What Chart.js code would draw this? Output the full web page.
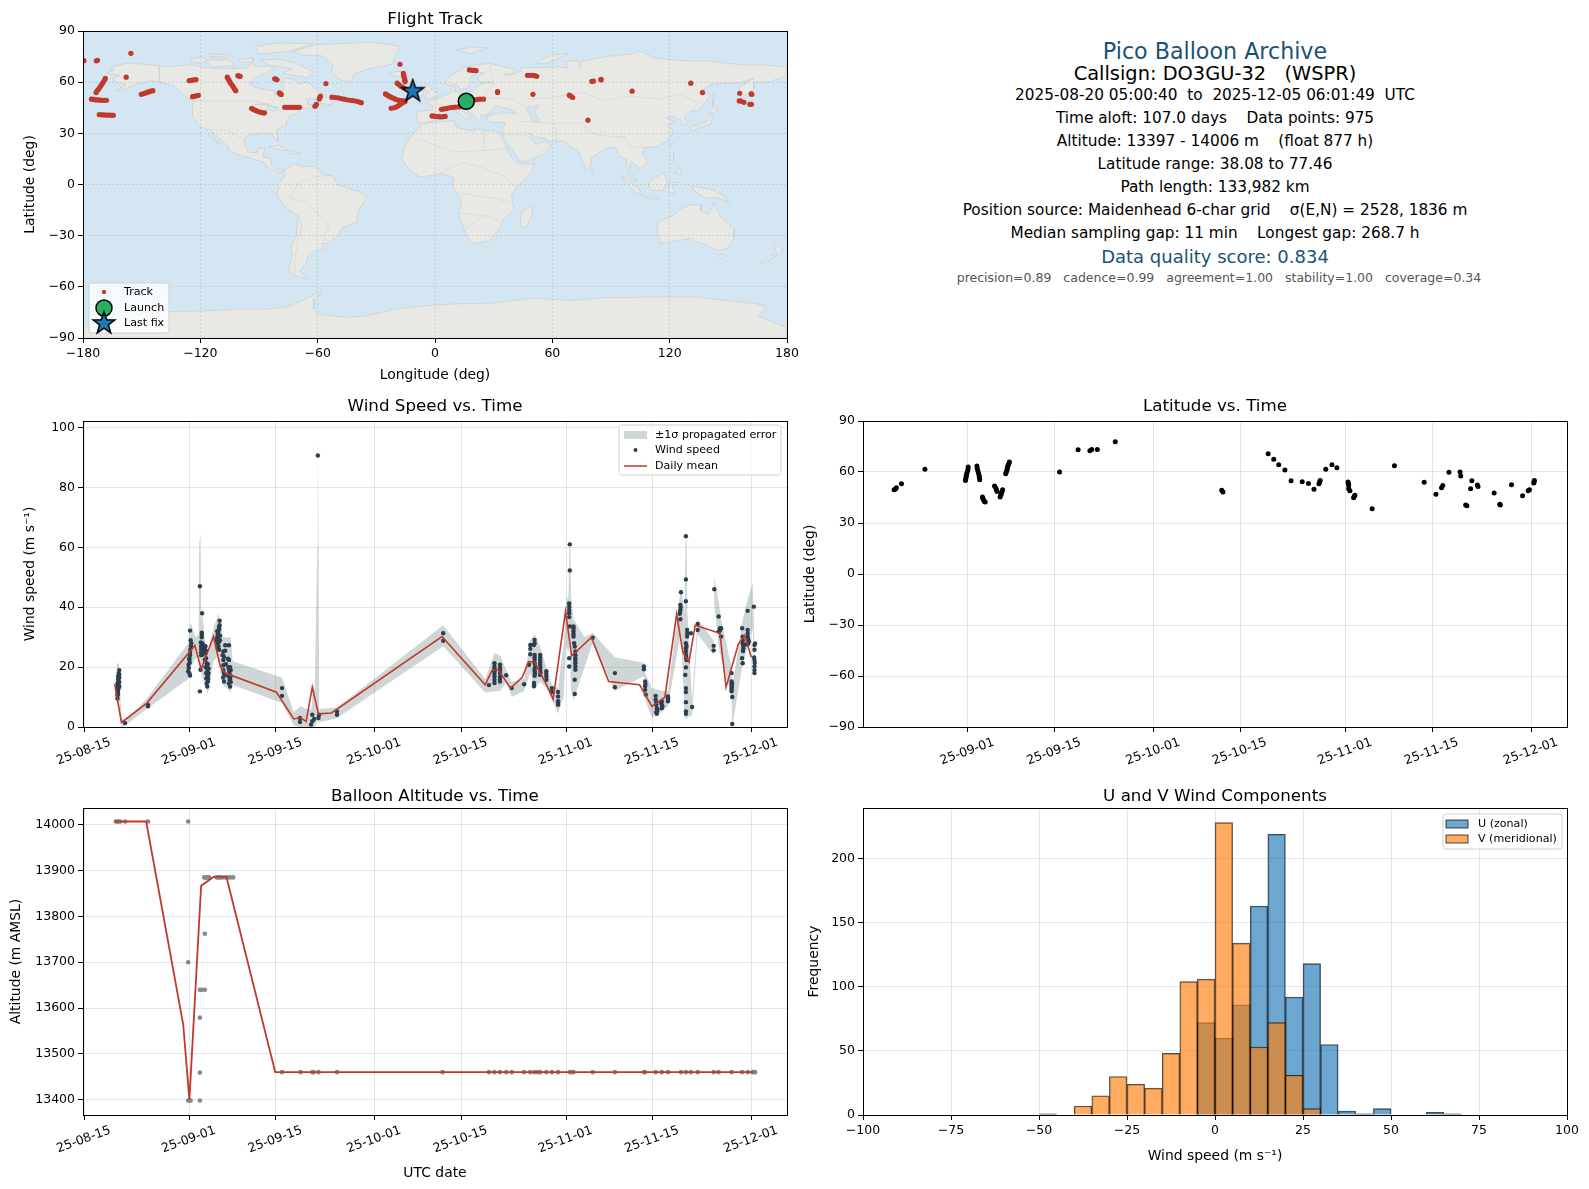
<!DOCTYPE html>
<html>
<head>
<meta charset="utf-8">
<title>Pico Balloon Archive</title>
<script src="https://cdn.jsdelivr.net/npm/chart.js@4"></script>
<style>
  html, body { margin: 0; padding: 0; background: #fff; overflow: hidden; }
  body { width: 1589px; height: 1189px; position: relative; font-family: "DejaVu Sans", sans-serif; }
  canvas { position: absolute; }
  .t { position: absolute; left: 815px; width: 800px; text-align: center; white-space: pre; transform: translateY(-50%); color: #000; font-size: 15.3px; line-height: 1.2; }
</style>
</head>
<body>
<canvas id="mapChart"></canvas>
<canvas id="windChart"></canvas>
<canvas id="latChart"></canvas>
<canvas id="altChart"></canvas>
<canvas id="histChart"></canvas>

<div class="t" style="top:51px;font-size:22.2px;color:#1a5276">Pico Balloon Archive</div>
<div class="t" style="top:74px;font-size:19.4px">Callsign: DO3GU-32   (WSPR)</div>
<div class="t" style="top:95px">2025-08-20 05:00:40  to  2025-12-05 06:01:49  UTC</div>
<div class="t" style="top:118px">Time aloft: 107.0 days    Data points: 975</div>
<div class="t" style="top:141px">Altitude: 13397 - 14006 m    (float 877 h)</div>
<div class="t" style="top:164px">Latitude range: 38.08 to 77.46</div>
<div class="t" style="top:187px">Path length: 133,982 km</div>
<div class="t" style="top:210px">Position source: Maidenhead 6-char grid    σ(E,N) = 2528, 1836 m</div>
<div class="t" style="top:233px">Median sampling gap: 11 min    Longest gap: 268.7 h</div>
<div class="t" style="top:257px;font-size:18px;color:#1a5276">Data quality score: 0.834</div>
<div class="t" style="top:277px;left:819px;font-size:12.5px;color:#555">precision=0.89   cadence=0.99   agreement=1.00   stability=1.00   coverage=0.34</div>

<script>
// ---- axis ticks ----
const mapLonTicks = [-180, -120, -60, 0, 60, 120, 180];
const latTicks = [-90, -60, -30, 0, 30, 60, 90];
const windTicks = [0, 20, 40, 60, 80, 100];
const altTicks = [13400, 13500, 13600, 13700, 13800, 13900, 14000];
const histXTicks = [-100, -75, -50, -25, 0, 25, 50, 75, 100];
const histYTicks = [0, 50, 100, 150, 200];
// dates as days since 2025-08-15
const dateTicks = [0, 17, 31, 47, 61, 78, 92, 108];
const dateLabels = ['25-08-15', '25-09-01', '25-09-15', '25-10-01', '25-10-15', '25-11-01', '25-11-15', '25-12-01'];

// ---- land outlines, [lon, lat] ----
const landNorthAmerica = [[-168,65.5],[-164,67],[-166,68.5],[-160,70.5],[-156.5,71.3],[-148,70.4],[-141,69.7],[-135,69],[-128,70],[-124,70],[-115,68],[-108,68],[-100,68],[-96,68.5],[-94,71],[-90,69],[-85,69.5],[-82,68],[-87,65],[-93,62],[-94.5,59],[-92,57],[-85,55.3],[-82,55],[-82,52.5],[-79.5,51.3],[-79,54.5],[-77,56.5],[-78,59],[-77.5,62.5],[-72,61.5],[-69.5,59],[-65,60],[-61.5,56.5],[-56,52.5],[-60,50],[-66,50],[-65,48.5],[-65,47],[-61,46],[-64,44.5],[-67,45],[-70,43.5],[-70.5,41.7],[-74,40.5],[-76,37],[-76,35],[-81,32],[-80.5,28],[-80.5,25.2],[-82,27],[-83,29.5],[-85,29.7],[-89.5,30],[-90,29],[-94,29.5],[-97,28],[-97.7,24],[-95.5,19],[-91,18.5],[-90.5,21],[-87,21.5],[-88,16],[-84,15.5],[-83.5,11],[-81,8.8],[-78,9.4],[-77.3,8],[-79.5,7.5],[-83,8.3],[-85.5,10],[-87.5,13],[-92,14.5],[-96,16],[-102,18],[-105.5,20],[-105.7,22.5],[-109.5,26],[-112.5,29.5],[-114.7,31.5],[-113,27],[-110,23.3],[-112,25],[-115,28.5],[-117,32.5],[-120.5,34.5],[-124,40],[-124,46],[-123,49],[-127,51],[-130,54.5],[-134,58],[-140,60],[-146,60.8],[-152,59],[-158,56],[-163,54.8],[-158,58.5],[-162,59.5],[-165,62],[-161,64]];
const landGreenland = [[-73,78],[-60,82],[-32,83.5],[-18,81],[-20,76],[-22,70.5],[-33,68],[-41,65],[-43,60],[-49,61.5],[-53,66],[-52,70],[-58,75.5],[-68,76]];
const landBaffin = [[-80,73.5],[-72,71.5],[-62,66],[-65,62.5],[-72,64],[-78,65],[-73,68],[-85,70],[-89,73]];
const landVictoria = [[-117,73],[-105,73],[-102,69.5],[-115,69]];
const landEllesmere = [[-90,76.5],[-75,78],[-62,82.5],[-80,83],[-92,81]];
const landBanks = [[-125,74],[-118,74.5],[-117,72],[-123,71]];
const landMelville = [[-115,76.5],[-105,76],[-106,74.5],[-115,75]];
const landPrinceWales = [[-100,73.5],[-93,74],[-93,72],[-99,71.5]];
const landNewfoundland = [[-59,47.7],[-53,46.7],[-53,49],[-56,51.5]];
const landCuba = [[-85,22],[-80,23],[-74.5,20],[-77.5,20]];
const landHispaniola = [[-74,19.8],[-68.5,18.5],[-71,18],[-74,18.3]];
const landSouthAmerica = [[-77.3,8],[-72,12],[-68,10.7],[-62,10.7],[-57,6],[-52,5],[-50,0],[-44,-2.5],[-37,-5],[-35,-8],[-39,-15],[-40,-22],[-48,-26],[-49,-29],[-54,-34.5],[-58,-34.5],[-57,-38],[-62,-39],[-65,-42],[-66,-46],[-69,-51],[-65,-55],[-71,-54],[-75,-50],[-73,-42],[-73.5,-37],[-71,-30],[-70,-18.5],[-76,-14],[-81,-6],[-80,-2.5],[-80,1],[-77,4]];
const landAfrica = [[-6,35.8],[3,37],[10,37.3],[11,33.5],[15,32.3],[20,31.5],[20,32.8],[25,31.7],[32,31.2],[34,28],[37,21],[39,16],[43,12],[51,12],[48,5],[42,-1.5],[39,-6],[40.5,-15],[35,-20],[33,-26],[28,-33],[20,-34.8],[18,-33],[15,-27],[12,-17],[13.5,-10],[9,-1],[9.5,4],[4,6.3],[-4,5],[-8,4.5],[-13,8.5],[-17,14.7],[-16,20],[-13,27.5],[-9.5,31.5]];
const landEurasia = [[-9,37],[-9.5,43],[-1.5,43.5],[-1,46],[-4.5,48.3],[1.5,50.5],[4,52],[8,54],[8.5,57],[10.5,57.5],[10,54.5],[14,54],[19,54.5],[21,57],[24,59.3],[29.5,60],[23,60],[21.5,62.5],[25,65.5],[22,65.8],[17.5,62],[18.5,60],[16.5,56.5],[13,55.5],[11,59],[7,58],[5,60],[8,63.5],[14,68],[20,70],[28,71],[41,67.5],[40,65],[35,64.3],[38,64],[44,66.5],[44,68.5],[54,68.5],[60,69],[68,68.5],[67,72],[73,73],[74,68],[75,72],[87,75],[100,76.5],[105,78],[113,74],[128,72.5],[140,72.5],[150,71],[160,70],[170,70],[180,69],[180,65],[177,62.5],[170,60],[163,60],[163,56],[157,51],[155.5,57],[163,62],[155,59.5],[142,59],[135,54.5],[141,52.5],[135,43.5],[130,42.5],[127.5,39.7],[129.3,36],[126.5,34.5],[126,37.5],[122,40],[118,39],[122.5,37],[119,35],[122,31],[119,25.5],[113,22],[108,21.7],[106,19],[109,13],[105,9],[100.5,13.5],[99,9],[103,2],[101,3],[98,8.5],[98,15],[94.5,16],[92,22],[87,21],[80,15.5],[79.5,10],[77.5,8],[73,20],[69,22.5],[66.5,25.3],[57,25.5],[56.5,27],[51,28],[48,30],[50,26],[52,24],[56.3,25],[59.5,22.5],[55,17],[45,13],[43,14],[39,21],[35,28],[34.5,31.5],[36,36.5],[30,36.2],[27,37],[26.5,40],[29,41],[35,42],[41.5,41.5],[38,44.5],[34,45],[31,46.5],[28,42],[26,40.7],[23,40.3],[24,38],[22.5,36.7],[19.5,41],[14,45.3],[12.3,44.5],[18,40],[16,38],[12,42],[9,44.3],[3,43],[0,39],[-2,36.8],[-5.5,36]];
const landBritain = [[-5.5,50],[1.5,51.2],[1.5,52.9],[-2,56],[-2,57.7],[-5,58.6],[-6,56],[-3,54],[-5,52]];
const landIreland = [[-10,52],[-6,52.2],[-6,55],[-9,54.5]];
const landIceland = [[-24,65.5],[-18,66.3],[-14,65],[-18,63.5],[-22.5,64]];
const landSvalbard = [[11,79],[20,80.5],[27,80],[18,76.7]];
const landNovayaZemlya = [[52,71],[57,71],[68,76.7],[60,76],[54,73]];
const landMadagascar = [[49.5,-12],[50,-16],[47,-25],[44,-25],[43.5,-21],[44.5,-16]];
const landHonshu = [[130.5,34],[136,35.5],[140,38],[141.5,41],[142,39],[140.5,35],[136,33.7],[131,31]];
const landHokkaido = [[140,42],[142,45.5],[145,43.5],[143,42]];
const landSakhalin = [[142,46],[143,50],[142.5,54],[142,50]];
const landTaiwan = [[120,23],[121.5,25],[121,22]];
const landLuzon = [[120,16],[122,18.5],[122,14],[120.5,14]];
const landMindanao = [[122,7],[125.5,9.5],[126,6.5]];
const landSumatra = [[95,5.5],[104,-2],[106,-6],[102,-4.5]];
const landBorneo = [[109,1.5],[117,7],[119,1],[116,-4],[110,-3]];
const landJava = [[105.5,-6.5],[114.5,-7.5],[114,-8.7],[106,-7.5]];
const landSulawesi = [[119.5,-5],[120,1],[125,1.5],[121,-1],[123,-5]];
const landNewGuinea = [[131,-1],[141,-2.7],[147,-6],[150.5,-10.5],[144,-7.8],[138,-8],[133,-4]];
const landSriLanka = [[80,9.5],[82,7],[80.5,6]];
const landAustralia = [[114,-22],[122,-18],[126,-14],[130,-12],[136,-12],[136,-15.5],[140,-17.5],[142.5,-11],[146,-19],[153,-26],[153,-31],[150,-37.5],[144,-38.5],[138,-35],[135,-34.5],[131,-31.5],[124,-33],[115,-34.5],[113.5,-26]];
const landTasmania = [[145,-41],[148,-41],[147,-43.5],[146,-43.5]];
const landNZNorth = [[173,-35],[178,-38],[175,-41.5],[174,-38]];
const landNZSouth = [[172,-41],[174,-42],[168,-46.5],[166.5,-46]];
const landAntarctica = [[-180,-84.5],[-158,-79],[-150,-76],[-135,-74.5],[-115,-74],[-100,-73],[-85,-73],[-75,-71.5],[-68,-68],[-60,-63.5],[-58,-64],[-62,-67],[-62,-73],[-60,-76],[-45,-78],[-35,-77],[-22,-73.5],[-10,-71.5],[10,-70],[30,-69.5],[50,-66.5],[70,-68],[85,-66.5],[110,-66],[135,-66],[145,-67.5],[165,-70],[170,-72],[165,-77],[180,-84],[180,-90],[-180,-90]];
const landShapes = [landNorthAmerica, landGreenland, landBaffin, landVictoria, landEllesmere, landBanks, landMelville, landPrinceWales, landNewfoundland, landCuba, landHispaniola, landSouthAmerica, landAfrica, landEurasia, landBritain, landIreland, landIceland, landSvalbard, landNovayaZemlya, landMadagascar, landHonshu, landHokkaido, landSakhalin, landTaiwan, landLuzon, landMindanao, landSumatra, landBorneo, landJava, landSulawesi, landNewGuinea, landSriLanka, landAustralia, landTasmania, landNZNorth, landNZSouth, landAntarctica];
const waterCaspian = [[47,45],[53,46.5],[51,42],[54,37],[50,37],[48,42]];
const waterSuperior = [[-92,46.8],[-85,47.5],[-85,46.6]];
const waterHuron = [[-87.5,42],[-85,46],[-80,45.5],[-82,43],[-86,44]];
const waterShapes = [waterCaspian, waterSuperior, waterHuron];
const borderLines = [
  [[-123,49],[-95,49],[-89,48],[-82,45],[-79,43],[-75,45],[-70,46],[-67,45]],
  [[-141,69.7],[-141,60]],
  [[-117,32.5],[-106,31.5],[-97,26]],
  [[-52,5],[-60,5],[-70,1],[-74,-8],[-65,-11],[-58,-20],[-54,-25],[-57,-30],[-53.5,-34]],
  [[-70,-18],[-68,-24],[-70,-33],[-72,-45],[-71,-52]],
  [[-9,27],[9,19],[25,20],[25,31.7]],
  [[25,20],[37,21]],
  [[3,7],[14,13],[24,10],[35,5],[42,-1.5]],
  [[12,-5],[30,-8],[40,-11]],
  [[12,-17],[25,-18],[33,-22]],
  [[15,-27],[20,-22],[25,-18]],
  [[28,70],[30,60],[28,56],[24,51],[40,50],[47,45]],
  [[47,50],[60,51],[75,54],[87,49]],
  [[87,49],[98,52],[115,50],[125,53],[135,48],[131,43]],
  [[75,36],[80,30],[90,28],[97,28],[100,22],[108,21.7]],
  [[44,37],[61,36],[62,25]],
  [[61,36],[75,36]],
  [[35,29],[47,29],[55,20],[52,17]]
];

// ---- flight track, [lon, lat] ----
const trackPoints = [[-179.5,72.6],[-173.2,72.5],[-172.6,72.8],[-155.5,76.9],[-157.9,62.9],
  [-168.6,62.3],[-169,61.2],[-169.6,60.1],[-170.2,59],[-170.8,58],[-171.4,57],[-172,56],[-172.7,55],[-173.3,53.9],
  [-175.7,50],[-174.8,49.9],[-174,49.7],[-173,49.6],[-172,49.6],[-171,49.5],[-170,49.4],[-169,49.4],[-168,49.4],
  [-171.7,41],[-170.6,40.9],[-169.5,40.8],[-168.4,40.7],[-167.3,40.7],[-166.2,40.7],[-165.2,40.6],[-164.5,40.6],
  [-150.2,52.9],[-149.2,53.2],[-148.2,53.6],[-147.2,54],[-146.2,54.4],[-145.2,54.8],[-144.3,55],
  [-125.7,60.9],[-124.8,61],[-123.8,61.2],[-122.8,61.4],[-122.2,61.5],
  [-124,51.5],[-123,51.7],[-122,52],[-121,52.3],
  [-106.2,62.9],[-105.8,62],[-105.3,61],[-104.8,60],[-104.3,59],[-103.6,58],[-103,57],[-102.5,56],[-101.9,55],
  [-100.8,63.8],[-100.3,63.6],[-99.6,63.4],
  [-93.8,44.7],[-93,44.1],[-92,43.6],[-91,43.1],[-90,42.6],[-89,42.3],[-88,42],[-87.2,42],
  [-82,62],[-81.4,61.8],[-80.8,61.4],[-79.6,53.8],[-79.2,53.2],[-78.6,52.8],
  [-76.9,45.3],[-76,45.3],[-75,45.3],[-74,45.3],[-73,45.3],[-72,45.3],[-71,45.3],[-70,45.3],[-69.3,45.3],
  [-61.4,45.9],[-61,46.3],[-60.6,47],[-59.2,50.2],[-58.9,51],[-58.6,51.8],[-55.8,59.2],
  [-52.7,51.2],[-51,51],[-49.5,50.8],[-48,50.4],[-46.5,50],[-45,49.7],[-43.5,49.4],[-42,49.2],[-40.5,48.9],[-39,48.5],[-37.7,48],
  [-25.3,53.1],[-24.5,52.5],[-23.5,51.8],[-22.5,51.2],[-21.5,50.7],[-20.5,50.2],[-19.5,49.7],[-18.5,49.4],[-17.3,49.2],[-15.8,49],
  [-22.4,44.7],[-21,45],[-20,45.4],[-19,46],[-18,46.8],[-17,47.6],[-16,48.3],[-15.3,48.6],
  [-19.3,59.4],[-18.5,58.6],[-17.5,57.6],[-16.5,57],[-15.5,56.3],[-14.6,55.8],
  [-16.2,65.2],[-16,64],[-15.8,63],[-15.6,62],[-15.4,61],[-15.3,60.3],[-17.9,70.5],
  [-1.5,40.2],[-0.5,40.1],[0.5,39.9],[1.5,39.8],[2.5,39.7],[3.5,39.7],[4.5,39.8],[5.2,39.9],
  [3.3,44.1],[4.5,44.3],[6,44.6],[7.5,45],[9,45.2],[10.5,45.4],[12,45.5],[12.8,45.7],
  [20,49.6],[21.5,49.8],[23,50],[24.8,50],[17.6,67.2],[18.8,67],[20,66.9],[21,66.8],
  [32,54],[32,54.5],[47.3,64],[48.5,64],[49.8,64],[51,63.8],[52,63.4],[50.1,52.9],
  [68.7,52.4],[69.5,51.8],[70.4,51],[80.2,60.5],[81,60.6],[84.9,61.3],[84.9,61.7],[78.2,37.7],
  [100.8,54.7],[130.8,59.4],[136.8,53.9],[155.8,53.5],[162,52.9],[161.7,53.1],
  [155.6,49],[156.5,48.9],[158,48.2],[161,47],[161.8,47]];
const launchPoint = [16, 48.8];
const lastFixPoint = [-11.4, 55];

// ---- wind speed, [day, m/s] ----
const windPoints = [[5.35,9.5],[5.35,10.5],[5.35,11.5],[5.35,12.5],[5.35,13.5],[5.35,14.5],[5.45,11],[5.45,12],[5.45,13],[5.45,14],[5.45,15],[5.45,16],[5.45,17],[5.55,13],[5.55,14],[5.55,15],[5.55,16],[5.55,17],[5.55,18],[5.65,13.5],[5.65,15],[5.65,16.5],[5.65,17.5],[5.65,19],
  [6.58,1.3],[10.3,7.4],[10.3,6.9],
  [17.1,32.2],[17.2,29],[17.3,28],[17.1,24.7],[17,23],[16.9,19.7],[16.8,18.6],[17.1,17.2],[17.25,27],[17.15,25.8],[17.1,24],[17,22.4],[16.85,20.8],[17.05,21.5],[17,18],
  [18.7,47],[19.05,38],[18.7,11.9],[19,31.5],[19,30.8],[19,30],[18.9,27],[18.9,26],[18.9,25],[18.9,24],[18.8,19.1],[19.1,28],[19.1,25.5],[19.15,24.2],[18.85,28.2],
  [19.4,26.9],[19.5,26],[19.6,24.6],[19.7,23],[19.8,21.3],[19.9,19],[19.9,16.9],[20,15.2],[19.9,13.5],[19.7,18],[19.6,20],[19.8,14.5],[19.6,27],[19.7,25.5],[19.5,22.5],[20,21],[20.1,19.5],[20.1,18],[20,17],[20.05,16],[19.75,16.2],[19.85,20.2],
  [21.9,35.5],[21.8,33.5],[21.7,31.9],[21.7,30.2],[21.8,28.5],[21.7,27],[21.8,25.8],[21.5,32],[21.5,30],[21.4,29],[21.9,34],[21.85,32.8],[21.6,31],[21.95,30.5],[21.95,29],[21.6,28],[21.55,26.5],
  [22.8,27.3],[23.4,27.3],[22.5,25.2],[22.8,25.5],[22.5,22.4],[23.4,22.4],[22.5,19],[23.6,20],[23.5,18],[22.7,17.4],[23.5,15.7],[22.6,15.2],[23.6,13.5],[23.7,19],[23.3,17],[23.6,16],[22.9,21],[22.4,24],[22.5,20.6],[22.6,23.5],[22.6,18],[23.3,20],[23.4,19],[23.7,17],[23.7,15],[23.4,14.5],[23.25,22.8],[22.45,16.5],
  [32,13],[32,10.4],[34.9,3],[34.9,1.7],[36.9,4.1],[36.9,1.9],[36.7,0.8],[37.2,2.7],[37.8,90.7],[37.9,3],[38,4.1],[40.9,5.2],[40.9,4.1],
  [58.1,31.3],[58.1,28.8],[65.5,14],[66.4,21.3],[66.4,20.2],[66.4,18.6],[66.4,16.9],[66.4,14.7],[66.4,19.4],[66.4,17.8],[66.4,15.8],[67.3,20.8],[67.3,19.7],[67.3,18],[67.3,16.9],[67.3,15.2],[67.3,18.9],[67.3,16],[68.3,17.3],[69.2,13],[71.2,14.3],
  [72.2,27.4],[72.2,26.1],[72.2,24.3],[72,20.8],[72.9,29.1],[72.9,28],[72.8,27.4],[72.9,24.1],[72.9,22.4],[73,20.2],[72.9,18.6],[72.9,17.1],[72.8,14.7],[72.8,13.6],[72.9,23.3],[72.9,21.3],[72.9,19.4],[72.95,17.9],[72.8,14],
  [73.8,24.1],[73.8,22.4],[73.8,20.8],[73.8,19],[73.8,17.4],[73.8,23.2],[73.8,21.6],[73.85,20],[73.85,18.2],[74.8,18.6],[74.8,16.9],[74.8,15.8],[74.8,17.8],[75.7,13],[75.7,11.7],[76.7,11.7],[76.7,10.2],[76.7,8.6],[76.7,7.4],[76.7,8],
  [78.6,61],[78.6,52.3],[78.5,41.3],[78.5,40.2],[78.5,39.1],[78.5,38],[78.5,36.7],[78.6,33.6],[79.2,33.6],[79.2,31.9],[79.2,30.2],[79.4,26.9],[79.5,25.2],[79.5,23],[79.5,21.3],[79.5,19.1],[79.4,15.8],[79.4,11],[78.5,23],[78.5,20.2],[79.2,32.8],[79.2,31],[79.5,24],[79.5,22.2],[79.5,20.2],[79.3,28],
  [82.3,29.8],[85.9,18],[85.9,13.3],[90.6,20.2],[90.6,19.3],[90.8,15.2],[90.8,13.6],[90.8,12.4],[90.9,10.8],[90.85,14.4],
  [92.5,10.4],[92.5,9.1],[92.6,7.4],[92.7,6.3],[92.7,5.2],[92.7,4.4],[92.6,8.2],[92.8,5.8],[92.6,4.9],[93.5,8.6],[93.5,7.4],[93.5,6.3],[93.4,8],[93.6,6.9],[94.5,10.2],[94.5,9.1],[94.5,8.6],[94.5,9.6],
  [96.6,45],[96.5,40.8],[96.5,39.1],[96.4,37.8],[96.5,36],[96.55,40],[96.45,38.4],[97.4,63.7],[97.4,49.3],[97.4,42],[97.6,32.4],[97.6,30.2],[97.4,28],[97.4,26.3],[97.4,24.1],[97.5,22.4],[97.4,19.9],[97.3,17.4],[97.4,13],[97.4,11.7],[97.4,8.3],[97.4,5.2],[97.4,4.4],[98.4,6.7],[98.2,31.3],[97.6,31.2],[97.5,27],[97.4,25.2],[97.45,23.2],
  [99.3,34.4],[99.3,32.4],[101.9,27.1],[101.9,25.6],[102,46],[102.7,36.9],[102.9,33],[102.7,31.9],[103.1,30.2],[102.9,32.2],[103.1,33],
  [104.8,18],[104.8,15.2],[104.8,14.1],[104.8,13],[104.8,11.9],[104.9,10],[104.9,1],[104.85,14.6],[104.85,13.5],[104.8,12.4],
  [106.5,33],[106.6,30.2],[106.6,28],[106.7,26.3],[106.5,23],[106.6,21.3],[106.6,29],[106.7,27.2],[106.65,25.4],[107.4,38.8],[107.4,32.4],[107.4,30.2],[107.6,28.6],[107,27.5],[107.4,31.2],[107.5,29.4],[107.5,27.8],
  [108.4,40.2],[108.5,27.4],[108.5,25.8],[108.5,22.4],[108.5,20.2],[108.5,18],[108.45,23.2],[108.55,21.4],[108.5,19],[108.6,27.9]];
const windMeanDays = [4.9,6,10.1,17.9,18.9,20.9,22,22.8,31.1,33.9,35,35.9,36.9,37.9,40,57.9,64.9,66,67,69,70.9,71.9,72.9,74.9,75.9,77.9,78.9,82.1,84.9,89.9,91.9,94,95.9,96.9,97.9,98.9,102.9,103.9,105.9,106.9,108];
const windMeanSpeed = [14.3,1.5,8,27.2,19.3,30.2,20.2,18,11.6,2.7,3.1,1.9,13.3,4.4,4.7,30.2,14.1,18.9,19.2,13,16.6,21.8,21.6,13.8,9.3,38.6,23.8,29.9,15.2,14.1,6.9,10,37.7,25,21.7,34,31.3,13.3,27.8,30.6,23.3];
const bandDays = [5.2,5.6,6,6.6,10.1,16.8,17.2,18,18.5,18.58,18.7,18.82,18.9,19.05,19.5,20,20.9,21.7,22,22.5,23.7,24,32,33.9,35,36,36.8,37,37.3,37.7,37.8,37.9,38.02,40.9,58.1,64.9,66.4,67.3,68.3,69.2,71.2,72.2,72.9,73.8,74.8,75.7,76.7,77.6,78,78.4,78.5,78.6,78.7,78.8,79.2,81,82.3,85.9,90.6,90.8,91.9,93.5,94.5,96.6,97.2,97.3,97.4,97.5,97.6,98.4,99.3,101.9,102,102.7,103.2,104.8,104.9,106.5,107.4,108.2,108.5];
const bandUpper = [21.5,21,3,2,9.5,28,35,30,31,62,65.5,62,34,40,29,25,33,38,34,30,30,22,16.5,5,7,6,6,15,12,60,97.7,70,6,6.5,34,16,24.7,24,19,15,16,29,31,27,20,14,13,28,42,44,60,64,60,44,36,30,31.5,23.3,21.5,18,13,12,12,47,38,62,67,62,40,9,36,29,50,42,35,20,13,35,43,48,29];
const bandLower = [7,9,0,0.5,6,16,20,23,23,23,20,18,18,17,14,11,22,24,18,14,11.5,14,8,0.5,0,0,0,0,0,2,2,2,1.5,3,27,11.5,11.9,12,15,10,12,18,13,15,13,9,4.5,10,27,25,27,27,20,12,9,20,28,12,17,9,3,5,7,32,3,3,2.5,3,3,4,31,24,41,27,22,10,0,20,27,33,16];

// ---- latitude vs time, [day, deg] ----
const latPoints = [[5.07,49.6],[5.3,50],[5.44,50.8],[6.26,53.1],[10.05,61.6],
  [16.6,55],[16.65,56],[16.7,57],[16.75,58],[16.8,59],[16.9,60.2],[17,61.4],[17.04,62.9],[18.45,63.5],[18.5,62],[18.6,60.7],[18.7,59.4],[18.8,58],[18.85,56.8],[18.9,55.5],
  [19.35,45.3],[19.4,44.5],[19.5,43.7],[19.65,42.7],[19.8,42.4],[21.3,51.8],[21.5,50.6],[21.6,49.6],[21.7,48.6],[22.2,45.3],[22.3,46.3],[22.4,47.3],[22.5,48.5],[22.6,49.6],
  [23.1,59],[23.2,60],[23.3,61],[23.35,62],[23.4,62.9],[23.5,63.9],[23.6,64.9],[23.7,65.9],
  [31.8,60],[34.8,73.1],[36.7,72.5],[37,73.3],[37.9,73.3],[40.8,77.8],[58,49.2],[58.2,48.2],
  [65.5,70.8],[66.4,67.5],[67.2,64.3],[68.2,61.2],[69.2,54.9],[71,54.3],[72,53.3],[72.9,49.8],[73.7,53.1],[73.8,54],[73.9,55],[74.8,61.6],[75.8,64.3],[76.6,62.5],
  [78.4,54.1],[78.45,53.1],[78.5,52.2],[78.5,50.2],[78.7,49],[79.3,44.9],[79.4,45.6],[79.5,46.3],[82.3,38.4],[85.9,63.7],[90.7,53.9],[92.6,46.9],[93.5,50.8],[93.7,52],[94.7,59.8],[96.5,60],[96.6,57.6],[97.4,40.6],[97.6,40.2],[98.4,54.9],[98.2,50.2],[99.3,52.4],[99.4,51.4],[102,47.7],[102.9,41],[103,40.6],[104.8,52.5],[106.6,46],[107.5,49],[107.7,49.6],[108.4,53.5],[108.45,54.2],[108.5,55]];

// ---- altitude vs time, [day, m] ----
const altPoints = [[5.1,14007],[5.3,14007],[5.5,14007],[5.8,14007],[6.6,14007],[10.3,14007],[16.8,14007],[16.8,13700],[17,13398],[16.8,13398],[17.2,13398],[18.7,13398],[18.7,13459],[18.7,13579],[18.7,13640],[19,13640],[19.5,13640],[19.5,13762],
  [19.4,13885],[19.6,13885],[19.8,13885],[20,13885],[20.2,13885],[21.4,13885],[21.7,13885],[22,13885],[22.3,13885],[22.8,13885],[23.2,13885],[23.6,13885],[24.1,13885],
  [32,13460],[35,13460],[36.9,13460],[37.1,13460],[37.9,13460],[40.9,13460],[58,13460],[65.5,13460],[66.4,13460],[67.3,13460],[68.3,13460],[69.2,13460],[71.2,13460],[72.2,13460],[72.9,13460],[73.4,13460],[73.8,13460],[74.8,13460],[75.7,13460],[76.7,13460],[78.6,13460],[78.9,13460],[79.2,13460],[82.3,13460],[85.9,13460],[90.6,13460],[90.8,13460],[92.5,13460],[93.5,13460],[94.5,13460],[96.6,13460],[97.4,13460],[98.2,13460],[99.3,13460],[101.9,13460],[102.7,13460],[104.8,13460],[106.5,13460],[107.4,13460],[108.2,13460],[108.4,13460],[108.6,13460]];
const altMeanDays = [4.9,10,16,17,18.9,20.9,23,30.9,40,58,75,90,108.4];
const altMeanValues = [14007,14007,13564,13400,13867,13886,13886,13460,13460,13460,13460,13460,13460];

// ---- histogram, 5 m/s bins ----
const binCenters = [-97.5,-92.5,-87.5,-82.5,-77.5,-72.5,-67.5,-62.5,-57.5,-52.5,-47.5,-42.5,-37.5,-32.5,-27.5,-22.5,-17.5,-12.5,-7.5,-2.5,2.5,7.5,12.5,17.5,22.5,27.5,32.5,37.5,42.5,47.5,52.5,57.5,62.5,67.5,72.5,77.5,82.5,87.5,92.5,97.5];
const uCounts = [0,0,0,0,0,0,0,0,0,0,1,0,0,0,0,0,0,0,0,72,60,86,163,219,92,118,55,3,1,5,0,0,2,1,0,0,0,0,0,0];
const vCounts = [0,0,0,0,0,0,0,0,0,0,0,0,7,15,30,24,21,48,104,106,228,134,53,72,31,5,0,0,0,0,0,0,0,0,0,0,0,0,0,0];

// ---- shared styling ----
const FONT = '"DejaVu Sans", sans-serif';
const RED = '#c0392b', NAVY = '#2c3e50', GREY = '#7f8c8d';
const GRID = 'rgba(127,140,141,0.22)';
const BAND = 'rgba(105,128,128,0.32)';
const tickFont = { family: FONT, size: 12.5 };
const labelFont = { family: FONT, size: 13.9 };
const asXY = pts => pts.map(p => ({ x: p[0], y: p[1] }));
const zipXY = (xs, ys) => xs.map((x, i) => ({ x: x, y: ys[i] }));
const minusSign = v => String(v).replace('-', '\u2212');

// 5-point star used as the point style of the last fix
function starImage() {
  const c = document.createElement('canvas');
  c.width = 26; c.height = 26;
  const g = c.getContext('2d');
  g.beginPath();
  for (let i = 0; i < 10; i++) {
    const r = i % 2 ? 4.6 : 11.5, a = -Math.PI / 2 + i * Math.PI / 5;
    g.lineTo(13 + r * Math.cos(a), 13.5 + r * Math.sin(a));
  }
  g.closePath();
  g.fillStyle = '#1f77b4'; g.fill();
  g.lineWidth = 1.5; g.strokeStyle = '#000'; g.stroke();
  return c;
}
const STAR = starImage();

function drawLegendItem(g, it, x0, x1, y, tx) {
  g.save();
  const cx = (x0 + x1) / 2;
  if (it.kind === 'patch') {
    g.fillStyle = it.fill; g.fillRect(x0, y - 4, x1 - x0, 8);
    if (it.stroke) { g.strokeStyle = it.stroke; g.lineWidth = 1; g.strokeRect(x0, y - 4, x1 - x0, 8); }
  } else if (it.kind === 'dot') {
    g.fillStyle = it.fill; g.beginPath(); g.arc(cx, y, it.r, 0, 7); g.fill();
  } else if (it.kind === 'line') {
    g.strokeStyle = it.stroke; g.lineWidth = 1.5; g.beginPath(); g.moveTo(x0, y); g.lineTo(x1, y); g.stroke();
  } else if (it.kind === 'circle') {
    g.fillStyle = it.fill; g.strokeStyle = '#000'; g.lineWidth = 1.5; g.beginPath(); g.arc(cx, y, it.r, 0, 7); g.fill(); g.stroke();
  } else if (it.kind === 'star') {
    g.drawImage(STAR, cx - 13, y - 13);
  }
  g.restore();
  g.fillStyle = '#000'; g.textBaseline = 'middle'; g.textAlign = 'left';
  g.fillText(it.label, tx, y);
}

// axes frame, panel colour and legend box inside the axes
function framePlugin(bg, legend) {
  return {
    id: 'frame',
    beforeDraw(chart) {
      if (!bg) return;
      const a = chart.chartArea;
      chart.ctx.fillStyle = bg;
      chart.ctx.fillRect(a.left, a.top, a.width, a.height);
    },
    afterDraw(chart) {
      const g = chart.ctx, a = chart.chartArea;
      g.save();
      g.strokeStyle = '#000'; g.lineWidth = 1;
      g.strokeRect(Math.round(a.left) + 0.5, Math.round(a.top) + 0.5, Math.round(a.width), Math.round(a.height));
      if (legend) {
        const ox = chart.canvas.offsetLeft, oy = chart.canvas.offsetTop;
        g.beginPath();
        g.roundRect(legend.x - ox, legend.y - oy, legend.w, legend.h, 3);
        g.fillStyle = 'rgba(255,255,255,0.8)'; g.fill();
        g.strokeStyle = '#d0d0d0'; g.stroke();
        g.font = legend.size + 'px ' + FONT;
        legend.items.forEach(it => drawLegendItem(g, it, legend.x0 - ox, legend.x1 - ox, it.y - oy, legend.tx - ox));
      }
      g.restore();
    }
  };
}

function xAxis(min, max, ticks, labels, height, title, rotated, style) {
  return {
    type: 'linear', min: min, max: max, offset: false,
    afterBuildTicks: s => { s.ticks = ticks.map(v => ({ value: v })); },
    afterFit: s => { s.height = height; },
    ticks: {
      font: tickFont, color: '#000', padding: 3, autoSkip: false,
      minRotation: rotated ? 20 : 0, maxRotation: rotated ? 20 : 0, labelOffset: rotated ? 26 : 0,
      callback: (v, i) => labels ? labels[i] : minusSign(v)
    },
    title: { display: !!title, text: title, color: '#000', font: labelFont, padding: 0 },
    grid: Object.assign({ color: GRID, offset: false, tickColor: '#000', tickLength: 5 }, style ? style.grid : {}),
    border: Object.assign({ color: '#000' }, style ? style.border : {})
  };
}
function yAxis(min, max, ticks, width, title, style) {
  return {
    type: 'linear', min: min, max: max,
    afterBuildTicks: s => { s.ticks = ticks.map(v => ({ value: v })); },
    afterFit: s => { s.width = width; },
    ticks: { font: tickFont, color: '#000', padding: 3, autoSkip: false, callback: v => minusSign(v) },
    title: { display: true, text: title, color: '#000', font: labelFont, padding: 0 },
    grid: Object.assign({ color: GRID, tickColor: '#000', tickLength: 5 }, style ? style.grid : {}),
    border: Object.assign({ color: '#000' }, style ? style.border : {})
  };
}

// canvases are placed so the plot rectangle lands on the reference axes
const TOP_GAP = 30, RIGHT_GAP = 20;
function panel(id, axLeft, axTop, axW, axH, yW, xH, title, titlePad, type, datasets, xA, yA, plugin) {
  const el = document.getElementById(id);
  el.style.left = (axLeft - yW) + 'px';
  el.style.top = (axTop - TOP_GAP) + 'px';
  el.width = yW + axW + RIGHT_GAP;
  el.height = TOP_GAP + axH + xH;
  return new Chart(el, {
    type: type,
    data: { datasets: datasets },
    plugins: [plugin],
    options: {
      responsive: false, animation: false, devicePixelRatio: 1, events: [],
      layout: { padding: { left: 0, top: 0, right: RIGHT_GAP, bottom: 0 } },
      plugins: {
        legend: { display: false }, tooltip: { enabled: false },
        title: { display: true, text: title, fullSize: false, color: '#000',
                 font: { family: FONT, size: 16.7, weight: 'normal', lineHeight: '20px' },
                 padding: { top: 10 - titlePad, bottom: titlePad } }
      },
      scales: { x: xA, y: yA }
    }
  });
}

// ---- flight track map ----
const mapDatasets = [];
landShapes.forEach(shape => mapDatasets.push({
  data: asXY(shape.concat([shape[0]])), order: 20, pointRadius: 0, tension: 0,
  borderColor: '#c8ced1', borderWidth: 0.7, backgroundColor: '#e8e8e4', fill: 'shape'
}));
waterShapes.forEach(shape => mapDatasets.push({
  data: asXY(shape.concat([shape[0]])), order: 15, pointRadius: 0, tension: 0,
  borderColor: '#c8ced1', borderWidth: 0.6, backgroundColor: '#d4e6f1', fill: 'shape'
}));
borderLines.forEach(line => mapDatasets.push({
  data: asXY(line), order: 10, pointRadius: 0, tension: 0,
  borderColor: 'rgba(190,192,190,0.45)', borderWidth: 0.7, fill: false
}));
mapDatasets.push({ data: asXY(trackPoints), order: 3, showLine: false, pointRadius: 2.6, pointBorderWidth: 0, pointBackgroundColor: RED });
mapDatasets.push({ data: asXY([launchPoint]), order: 2, showLine: false, pointRadius: 8, pointBorderWidth: 1.5, pointBorderColor: '#000', pointBackgroundColor: '#27ae60' });
mapDatasets.push({ data: asXY([lastFixPoint]), order: 1, showLine: false, pointStyle: STAR });

// map grid sits over the land; the border must share its layer
const mapGridStyle = {
  grid: { color: 'rgba(127,140,141,0.25)', z: 1 },
  border: { dash: [2, 2], z: 1 }
};
panel('mapChart', 83, 31, 704, 307, 61, 46, 'Flight Track', 1, 'line', mapDatasets,
  xAxis(-180, 180, mapLonTicks, null, 46, 'Longitude (deg)', false, mapGridStyle),
  yAxis(-90, 90, latTicks, 61, 'Latitude (deg)', mapGridStyle),
  framePlugin('#d4e6f1', {
    x: 89, y: 283, w: 80, h: 50, x0: 94, x1: 114, tx: 124, size: 11.1,
    items: [
      { kind: 'dot', fill: RED, r: 2.2, label: 'Track', y: 292 },
      { kind: 'circle', fill: '#27ae60', r: 8, label: 'Launch', y: 308 },
      { kind: 'star', label: 'Last fix', y: 323 }
    ]
  }));

// ---- wind speed ----
panel('windChart', 83, 421, 704, 306, 61, 60, 'Wind Speed vs. Time', 4, 'line', [
  { data: zipXY(bandDays, bandUpper), order: 5, pointRadius: 0, tension: 0, borderWidth: 0, fill: '+1', backgroundColor: BAND },
  { data: zipXY(bandDays, bandLower), order: 5, pointRadius: 0, tension: 0, borderWidth: 0, fill: false },
  { data: asXY(windPoints), order: 2, showLine: false, pointRadius: 2.2, pointBorderWidth: 0, pointBackgroundColor: NAVY },
  { data: zipXY(windMeanDays, windMeanSpeed), order: 1, pointRadius: 0, tension: 0, borderColor: RED, borderWidth: 1.6, fill: false }
],
  xAxis(-0.23, 113.77, dateTicks, dateLabels, 60, '', true),
  yAxis(0, 102.2, windTicks, 61, 'Wind speed (m s\u207B\u00B9)'),
  framePlugin(null, {
    x: 619, y: 425, w: 162, h: 50, x0: 624, x1: 647, tx: 655, size: 11.1,
    items: [
      { kind: 'patch', fill: BAND, label: '\u00B11\u03C3 propagated error', y: 435 },
      { kind: 'dot', fill: NAVY, r: 2, label: 'Wind speed', y: 450 },
      { kind: 'line', stroke: RED, label: 'Daily mean', y: 466 }
    ]
  }));

// ---- latitude ----
panel('latChart', 863, 421, 704, 306, 61, 60, 'Latitude vs. Time', 4, 'line', [
  { data: asXY(latPoints), showLine: false, pointRadius: 2.5, pointBorderWidth: 0, pointBackgroundColor: '#000' }
],
  xAxis(0.05, 113.77, dateTicks.slice(1), dateLabels.slice(1), 60, '', true),
  yAxis(-90, 90, latTicks, 61, 'Latitude (deg)'),
  framePlugin(null, null));

// ---- altitude ----
panel('altChart', 83, 808, 704, 307, 75, 67, 'Balloon Altitude vs. Time', 1, 'line', [
  { data: zipXY(altMeanDays, altMeanValues), order: 1, pointRadius: 0, tension: 0, borderColor: RED, borderWidth: 1.8, fill: false },
  { data: asXY(altPoints), order: 2, showLine: false, pointRadius: 2.3, pointBorderWidth: 0, pointBackgroundColor: GREY }
],
  xAxis(-0.23, 113.77, dateTicks, dateLabels, 67, 'UTC date', true),
  yAxis(13366.5, 14036.5, altTicks, 75, 'Altitude (m AMSL)'),
  framePlugin(null, null));

// ---- U / V histogram ----
panel('histChart', 863, 808, 704, 307, 57, 50, 'U and V Wind Components', 1, 'bar', [
  { data: zipXY(binCenters, vCounts), order: 1, grouped: false, barPercentage: 1, categoryPercentage: 1, backgroundColor: 'rgba(255,127,14,0.65)', borderColor: 'rgba(0,0,0,0.7)', borderWidth: 1 },
  { data: zipXY(binCenters, uCounts), order: 2, grouped: false, barPercentage: 1, categoryPercentage: 1, backgroundColor: 'rgba(31,119,180,0.65)', borderColor: 'rgba(0,0,0,0.7)', borderWidth: 1 }
],
  xAxis(-100, 100, histXTicks, null, 50, 'Wind speed (m s\u207B\u00B9)', false),
  yAxis(0, 239.4, histYTicks, 57, 'Frequency'),
  framePlugin(null, {
    x: 1443, y: 814, w: 119, h: 35, x0: 1446, x1: 1468, tx: 1478, size: 11.1,
    items: [
      { kind: 'patch', fill: 'rgba(31,119,180,0.65)', stroke: 'rgba(0,0,0,0.7)', label: 'U (zonal)', y: 824 },
      { kind: 'patch', fill: 'rgba(255,127,14,0.65)', stroke: 'rgba(0,0,0,0.7)', label: 'V (meridional)', y: 839 }
    ]
  }));
</script>
</body>
</html>
